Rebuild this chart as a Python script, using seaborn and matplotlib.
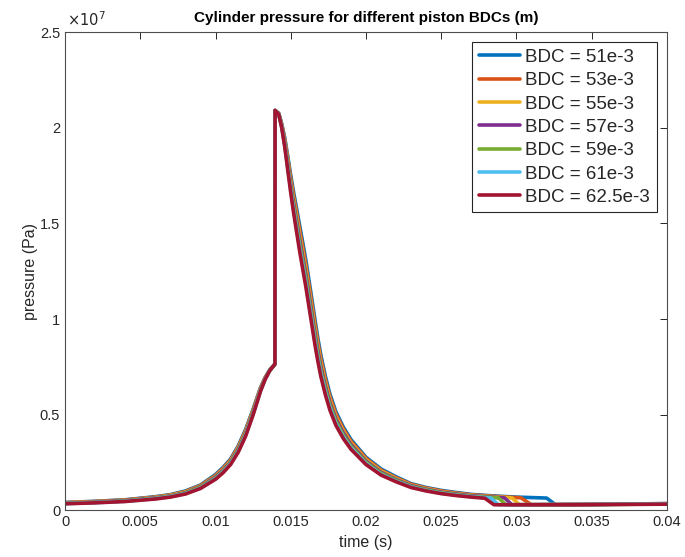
import numpy as np
import pandas as pd
import matplotlib
matplotlib.use("Agg")
import matplotlib.pyplot as plt
from matplotlib.ticker import FuncFormatter
import seaborn as sns

# time grid shared by all runs up to 0.027 s
t_main = [0.000, 0.002, 0.004, 0.006, 0.007, 0.008, 0.009, 0.010, 0.0105, 0.011,
          0.0115, 0.012, 0.0125, 0.013, 0.0133, 0.0136, 0.01395, 0.01396, 0.0142, 0.0144,
          0.0146, 0.0148, 0.0150, 0.0152, 0.0154, 0.0156, 0.0158, 0.0160, 0.0162, 0.0164,
          0.0166, 0.0168, 0.0170, 0.0173, 0.0176, 0.0180, 0.0185, 0.0190, 0.0200, 0.0210,
          0.0220, 0.0230, 0.0240, 0.0250, 0.0260, 0.0270]

# pressures in units of 1e7 Pa
p_51 = [0.042, 0.048, 0.056, 0.072, 0.083, 0.102, 0.133, 0.188, 0.225, 0.269,
        0.336, 0.423, 0.530, 0.644, 0.695, 0.734, 0.765, 2.090, 2.076, 2.020,
        1.948, 1.851, 1.751, 1.659, 1.573, 1.485, 1.399, 1.310, 1.209, 1.106,
        1.001, 0.901, 0.812, 0.702, 0.609, 0.516, 0.435, 0.371, 0.278, 0.217,
        0.176, 0.140, 0.120, 0.105, 0.094, 0.084]
p_53 = [0.041, 0.047, 0.055, 0.070, 0.081, 0.099, 0.130, 0.183, 0.220, 0.264,
        0.331, 0.417, 0.525, 0.641, 0.694, 0.733, 0.765, 2.090, 2.075, 2.017,
        1.939, 1.839, 1.735, 1.640, 1.552, 1.462, 1.375, 1.286, 1.185, 1.082,
        0.978, 0.880, 0.793, 0.685, 0.594, 0.504, 0.425, 0.362, 0.272, 0.211,
        0.171, 0.137, 0.117, 0.102, 0.091, 0.082]
p_55 = [0.040, 0.045, 0.053, 0.068, 0.079, 0.096, 0.127, 0.179, 0.215, 0.259,
        0.325, 0.411, 0.520, 0.637, 0.692, 0.732, 0.765, 2.090, 2.074, 2.013,
        1.931, 1.826, 1.720, 1.621, 1.530, 1.438, 1.350, 1.262, 1.161, 1.059,
        0.955, 0.859, 0.773, 0.668, 0.580, 0.491, 0.414, 0.353, 0.265, 0.206,
        0.167, 0.133, 0.114, 0.099, 0.088, 0.079]
p_57 = [0.038, 0.044, 0.052, 0.066, 0.076, 0.093, 0.124, 0.175, 0.210, 0.254,
        0.319, 0.405, 0.514, 0.634, 0.690, 0.732, 0.765, 2.090, 2.073, 2.010,
        1.923, 1.814, 1.704, 1.602, 1.509, 1.415, 1.326, 1.237, 1.137, 1.035,
        0.932, 0.838, 0.754, 0.651, 0.565, 0.479, 0.404, 0.345, 0.258, 0.200,
        0.162, 0.130, 0.111, 0.096, 0.086, 0.077]
p_59 = [0.037, 0.042, 0.050, 0.064, 0.074, 0.091, 0.121, 0.170, 0.205, 0.249,
        0.313, 0.399, 0.509, 0.631, 0.688, 0.731, 0.765, 2.090, 2.072, 2.006,
        1.914, 1.802, 1.688, 1.583, 1.488, 1.391, 1.302, 1.213, 1.112, 1.011,
        0.910, 0.817, 0.734, 0.634, 0.551, 0.467, 0.393, 0.336, 0.252, 0.195,
        0.158, 0.126, 0.108, 0.093, 0.083, 0.074]
p_61 = [0.036, 0.041, 0.048, 0.062, 0.072, 0.088, 0.117, 0.166, 0.201, 0.244,
        0.307, 0.393, 0.504, 0.627, 0.686, 0.731, 0.765, 2.090, 2.071, 2.003,
        1.906, 1.789, 1.672, 1.564, 1.466, 1.368, 1.278, 1.188, 1.088, 0.988,
        0.887, 0.796, 0.715, 0.618, 0.536, 0.454, 0.383, 0.327, 0.245, 0.189,
        0.153, 0.123, 0.104, 0.090, 0.080, 0.072]
p_625 = [0.035, 0.040, 0.047, 0.060, 0.070, 0.086, 0.115, 0.163, 0.197, 0.240,
         0.303, 0.388, 0.500, 0.625, 0.685, 0.730, 0.765, 2.090, 2.070, 2.000,
         1.900, 1.780, 1.660, 1.550, 1.450, 1.350, 1.260, 1.170, 1.070, 0.970,
         0.870, 0.780, 0.700, 0.605, 0.525, 0.445, 0.375, 0.320, 0.240, 0.185,
         0.150, 0.120, 0.102, 0.088, 0.078, 0.070]

# end of each run: plateau, drop and the low tail
t_tail_51 = [0.0285, 0.0300, 0.0320, 0.0326, 0.0370, 0.0400]
p_tail_51 = [0.076, 0.070, 0.065, 0.030, 0.033, 0.036]
t_tail_53 = [0.0285, 0.0303, 0.0310, 0.0360, 0.0400]
p_tail_53 = [0.074, 0.066, 0.030, 0.033, 0.036]
t_tail_55 = [0.0280, 0.0297, 0.0302, 0.0360, 0.0400]
p_tail_55 = [0.074, 0.066, 0.030, 0.032, 0.035]
t_tail_57 = [0.0280, 0.0292, 0.0297, 0.0350, 0.0400]
p_tail_57 = [0.072, 0.066, 0.030, 0.032, 0.035]
t_tail_59 = [0.0288, 0.0293, 0.0350, 0.0400]
p_tail_59 = [0.066, 0.030, 0.031, 0.034]
t_tail_61 = [0.0283, 0.0288, 0.0340, 0.0400]
p_tail_61 = [0.065, 0.030, 0.031, 0.034]
t_tail_625 = [0.0279, 0.0285, 0.0340, 0.0400]
p_tail_625 = [0.064, 0.030, 0.030, 0.033]

labels = ['BDC = 51e-3', 'BDC = 53e-3', 'BDC = 55e-3', 'BDC = 57e-3',
          'BDC = 59e-3', 'BDC = 61e-3', 'BDC = 62.5e-3']
colors = ['#0072BD', '#D95319', '#EDB120', '#7E2F8E', '#77AC30', '#4DBEEE', '#A2142F']

series = [(p_51, t_tail_51, p_tail_51), (p_53, t_tail_53, p_tail_53),
          (p_55, t_tail_55, p_tail_55), (p_57, t_tail_57, p_tail_57),
          (p_59, t_tail_59, p_tail_59), (p_61, t_tail_61, p_tail_61),
          (p_625, t_tail_625, p_tail_625)]

sns.set_theme(style='white')
plt.rcParams['font.family'] = ['Liberation Sans', 'DejaVu Sans']

fig = plt.figure(figsize=(6.85, 5.57), dpi=100)
ax = fig.add_axes([0.0949, 0.0835, 0.8788, 0.859])

for lab, col, (p, tt, pt) in zip(labels, colors, series):
    df = pd.DataFrame({'t': t_main + tt, 'p': p + pt})
    sns.lineplot(data=df, x='t', y='p', sort=False, estimator=None,
                 color=col, linewidth=2.6, label=lab, ax=ax)

ax.set_xlim(0, 0.04)
ax.set_ylim(0, 2.5)
ax.set_xticks(np.arange(0, 0.0401, 0.005))
ax.set_yticks([0, 0.5, 1, 1.5, 2, 2.5])
ax.xaxis.set_major_formatter(FuncFormatter(lambda v, _: f'{v:g}'))
ax.yaxis.set_major_formatter(FuncFormatter(lambda v, _: f'{v:g}'))
ax.tick_params(direction='in', top=True, right=True, length=5, width=0.7,
               colors='#262626', labelsize=10.5)
for s in ax.spines.values():
    s.set_color('#4d4d4d')
    s.set_linewidth(0.8)

ax.set_xlabel('time (s)', fontsize=11.5, color='#262626')
ax.set_ylabel('pressure (Pa)', fontsize=11.5, color='#262626', labelpad=1)
ax.set_title('Cylinder pressure for different piston BDCs (m)', fontsize=11,
             fontweight='bold', color='#000000', pad=7)
ax.text(0.003, 1.006, r'$\times10^{7}$', transform=ax.transAxes, ha='left', va='bottom',
        fontsize=10.5, color='#262626')

leg = ax.legend(loc='upper right', fontsize=13.5, frameon=True, fancybox=False,
                framealpha=1, edgecolor='#262626', borderaxespad=0.55,
                handlelength=2.2, handletextpad=0.27, labelspacing=0.33,
                borderpad=0.35)
leg.get_frame().set_linewidth(0.8)
for line in leg.get_lines():
    line.set_linewidth(2.6)

fig.savefig('out.png', dpi=100)
